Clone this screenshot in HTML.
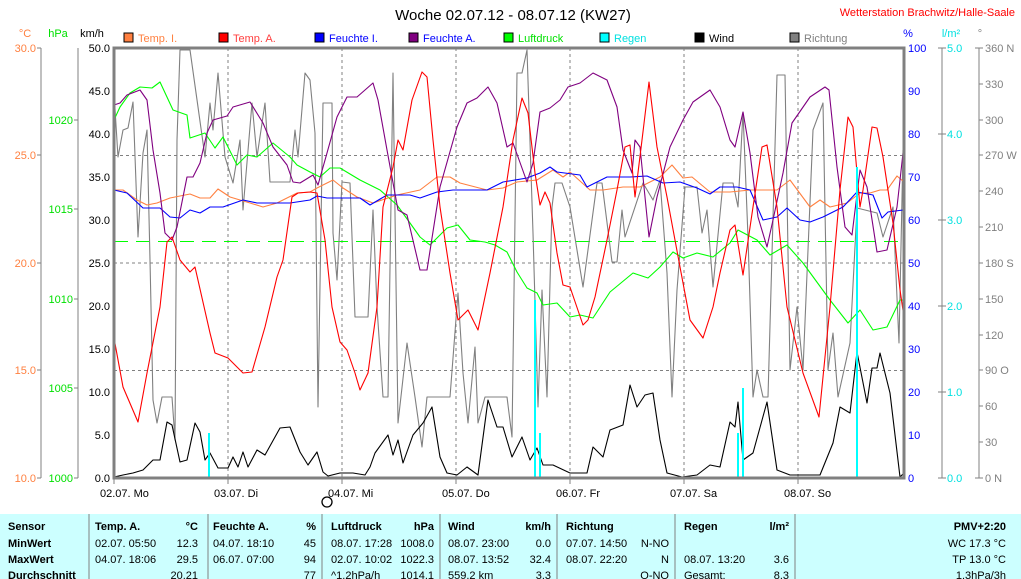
<!DOCTYPE html>
<html><head><meta charset="utf-8"><style>
html,body{margin:0;padding:0;background:#fff;width:1021px;height:579px;overflow:hidden}
svg{display:block;font-family:"Liberation Sans",sans-serif}
</style></head><body>
<svg width="1021" height="579" viewBox="0 0 1021 579" xmlns="http://www.w3.org/2000/svg">
<rect width="1021" height="579" fill="#fff"/>
<text x="513" y="20" font-size="15" text-anchor="middle" fill="#000">Woche 02.07.12 - 08.07.12 (KW27)</text>
<text x="1015" y="16" font-size="11" text-anchor="end" fill="#ff0000">Wetterstation Brachwitz/Halle-Saale</text>
<g font-size="11">
<text x="25" y="37" text-anchor="middle" fill="#ff8040">°C</text>
<text x="58" y="37" text-anchor="middle" fill="#00e000">hPa</text>
<text x="92" y="37" text-anchor="middle" fill="#000">km/h</text>
<text x="908" y="37" text-anchor="middle" fill="#0000ff">%</text>
<text x="951" y="37" text-anchor="middle" fill="#00e0e0">l/m²</text>
<text x="980" y="37" text-anchor="middle" fill="#808080">°</text>
</g>
<g font-size="11">
<rect x="124" y="33" width="9" height="9" fill="#ff8040" stroke="#000"/><text x="138" y="42" fill="#ff8040">Temp. I.</text>
<rect x="219" y="33" width="9" height="9" fill="#ff0000" stroke="#000"/><text x="233" y="42" fill="#ff4040">Temp. A.</text>
<rect x="315" y="33" width="9" height="9" fill="#0000ff" stroke="#000"/><text x="329" y="42" fill="#0000ff">Feuchte I.</text>
<rect x="409" y="33" width="9" height="9" fill="#800080" stroke="#000"/><text x="423" y="42" fill="#0000ff">Feuchte A.</text>
<rect x="504" y="33" width="9" height="9" fill="#00ff00" stroke="#000"/><text x="518" y="42" fill="#00e000">Luftdruck</text>
<rect x="600" y="33" width="9" height="9" fill="#00ffff" stroke="#000"/><text x="614" y="42" fill="#00e0e0">Regen</text>
<rect x="695" y="33" width="9" height="9" fill="#000" stroke="#000"/><text x="709" y="42" fill="#000">Wind</text>
<rect x="790" y="33" width="9" height="9" fill="#808080" stroke="#000"/><text x="804" y="42" fill="#808080">Richtung</text>
</g>
<g stroke="#808080" stroke-width="1">
<line x1="41" y1="48" x2="41" y2="478"/><line x1="78" y1="48" x2="78" y2="478"/>
<line x1="942" y1="48" x2="942" y2="478"/><line x1="979" y1="48" x2="979" y2="478"/>
</g>
<g font-size="11" fill="#ff8040" text-anchor="end">
<text x="36" y="52">30.0</text><text x="36" y="159">25.0</text><text x="36" y="267">20.0</text><text x="36" y="374">15.0</text><text x="36" y="482">10.0</text>
</g>
<g stroke="#808080"><line x1="37" y1="48" x2="41" y2="48"/><line x1="37" y1="155" x2="41" y2="155"/><line x1="37" y1="263" x2="41" y2="263"/><line x1="37" y1="370" x2="41" y2="370"/><line x1="37" y1="478" x2="41" y2="478"/>
<line x1="74" y1="120" x2="78" y2="120"/><line x1="74" y1="209" x2="78" y2="209"/><line x1="74" y1="299" x2="78" y2="299"/><line x1="74" y1="388" x2="78" y2="388"/><line x1="74" y1="478" x2="78" y2="478"/></g>
<g font-size="11" fill="#00e000" text-anchor="end">
<text x="73" y="124">1020</text><text x="73" y="213">1015</text><text x="73" y="303">1010</text><text x="73" y="392">1005</text><text x="73" y="482">1000</text>
</g>
<g font-size="11" fill="#000" text-anchor="end">
<text x="110" y="52">50.0</text><text x="110" y="95">45.0</text><text x="110" y="138">40.0</text><text x="110" y="181">35.0</text><text x="110" y="224">30.0</text><text x="110" y="267">25.0</text><text x="110" y="310">20.0</text><text x="110" y="353">15.0</text><text x="110" y="396">10.0</text><text x="110" y="439">5.0</text><text x="110" y="482">0.0</text>
</g>
<g font-size="11" fill="#0000ff">
<text x="908" y="52">100</text><text x="908" y="95">90</text><text x="908" y="138">80</text><text x="908" y="181">70</text><text x="908" y="224">60</text><text x="908" y="267">50</text><text x="908" y="310">40</text><text x="908" y="353">30</text><text x="908" y="396">20</text><text x="908" y="439">10</text><text x="908" y="482">0</text>
</g>
<g font-size="11" fill="#00e0e0">
<text x="947" y="52">5.0</text><text x="947" y="138">4.0</text><text x="947" y="224">3.0</text><text x="947" y="310">2.0</text><text x="947" y="396">1.0</text><text x="947" y="482">0.0</text>
</g>
<g stroke="#808080"><line x1="938" y1="48" x2="946" y2="48"/><line x1="938" y1="134" x2="946" y2="134"/><line x1="938" y1="220" x2="946" y2="220"/><line x1="938" y1="306" x2="946" y2="306"/><line x1="938" y1="392" x2="946" y2="392"/><line x1="938" y1="478" x2="946" y2="478"/></g>
<g font-size="11" fill="#808080">
<text x="985" y="52">360 N</text><text x="985" y="88">330</text><text x="985" y="124">300</text><text x="985" y="159">270 W</text><text x="985" y="195">240</text><text x="985" y="231">210</text><text x="985" y="267">180 S</text><text x="985" y="303">150</text><text x="985" y="339">120</text><text x="985" y="374">90 O</text><text x="985" y="410">60</text><text x="985" y="446">30</text><text x="985" y="482">0 N</text>
</g>
<g stroke="#808080"><line x1="975" y1="48" x2="983" y2="48"/><line x1="979" y1="84" x2="983" y2="84"/><line x1="979" y1="120" x2="983" y2="120"/><line x1="979" y1="155" x2="983" y2="155"/><line x1="979" y1="191" x2="983" y2="191"/><line x1="979" y1="227" x2="983" y2="227"/><line x1="979" y1="263" x2="983" y2="263"/><line x1="979" y1="299" x2="983" y2="299"/><line x1="979" y1="335" x2="983" y2="335"/><line x1="979" y1="370" x2="983" y2="370"/><line x1="979" y1="406" x2="983" y2="406"/><line x1="979" y1="442" x2="983" y2="442"/><line x1="975" y1="478" x2="983" y2="478"/></g>
<g stroke="#808080" stroke-dasharray="3,3" stroke-width="1">
<line x1="114" y1="155.5" x2="904" y2="155.5"/><line x1="114" y1="263" x2="904" y2="263"/><line x1="114" y1="370.5" x2="904" y2="370.5"/>
<line x1="228" y1="48" x2="228" y2="478"/><line x1="342" y1="48" x2="342" y2="478"/><line x1="456" y1="48" x2="456" y2="478"/><line x1="570" y1="48" x2="570" y2="478"/><line x1="684" y1="48" x2="684" y2="478"/><line x1="798" y1="48" x2="798" y2="478"/>
</g>
<line x1="114" y1="241.5" x2="904" y2="241.5" stroke="#00ff00" stroke-dasharray="14,8"/>
<g fill="none" stroke-width="1.1" stroke-linejoin="round">
<polyline stroke="#808080" points="114,93 118,157 123,130 128,128 133,102 138,237 143,153 147,130 150,260 153,400 157,423 162,397 172,397 175,440 177,140 180,50 190,50 198,107 205,157 210,103 213,130 218,73 225,157 233,183 240,140 243,210 252,103 257,157 265,103 270,182 290,182 295,130 298,157 305,73 310,80 315,133 318,407 323,103 332,103 333,233 337,280 342,182 350,183 355,317 368,317 373,210 377,307 383,397 388,397 393,73 398,423 407,343 415,397 422,447 427,397 450,397 458,293 463,373 468,423 475,347 478,423 485,397 507,397 512,437 517,73 522,73 527,50 533,233 538,407 542,290 547,397 552,207 555,183 562,183 570,207 583,287 597,183 602,183 612,262 617,262 622,210 625,237 643,183 653,200 660,180 667,273 672,397 677,290 685,187 697,187 702,233 707,210 713,287 723,183 733,183 738,207 743,112 748,237 753,397 757,370 763,397 768,397 777,75 785,75 790,370 797,307 803,370 813,130 823,103 828,370 833,333 838,397 850,343 857,208 877,213 883,237 893,207 899,343 903,150"/>
<polyline stroke="#00ff00" points="114,120 120,107 130,93 140,87 152,88 160,82 173,110 187,115 190,138 205,133 215,148 223,137 237,165 247,155 257,157 273,143 290,157 297,165 310,172 320,177 330,168 340,168 360,180 380,190 397,205 410,223 420,237 430,245 447,228 458,225 470,240 485,242 495,245 507,252 517,272 527,288 537,293 543,305 557,303 570,317 580,315 593,318 610,292 633,273 648,278 660,267 673,252 683,258 697,253 713,257 730,243 738,230 757,240 770,255 787,245 803,263 830,300 848,323 860,310 873,330 887,327 900,300 904,300"/>
<polyline stroke="#ff8040" points="114,190 123,190 137,200 147,205 157,203 170,198 190,194 200,198 210,198 218,189 230,197 250,203 263,207 277,203 297,193 310,192 317,188 333,180 343,188 357,197 373,203 397,195 420,190 437,177 450,177 460,183 487,190 503,188 517,182 537,180 553,170 563,177 570,172 590,190 603,190 623,187 640,187 650,182 660,177 672,165 683,178 692,177 710,192 730,192 750,190 777,190 790,180 810,207 820,200 830,207 847,203 860,193 870,193 880,190 887,190 897,176 904,182"/>
<polyline stroke="#0000ff" points="114,190 127,193 143,208 160,208 170,217 180,218 190,210 200,213 210,207 223,207 243,200 257,203 290,203 310,200 317,196 327,198 360,198 370,205 387,195 410,195 420,198 437,192 453,190 487,190 503,182 527,178 540,173 550,167 557,172 580,175 587,187 597,182 607,177 630,177 647,176 663,183 680,182 697,188 710,194 720,187 737,187 750,190 763,220 777,217 787,208 800,220 810,222 823,217 843,207 857,192 873,195 882,218 888,212 903,210"/>
<polyline stroke="#800080" points="114,105 120,103 127,95 140,90 147,100 153,150 160,193 165,233 172,240 177,227 187,177 193,177 200,163 207,133 213,120 227,116 233,107 250,102 263,123 273,147 287,165 293,182 300,183 313,175 318,185 327,153 337,117 347,97 357,97 373,83 378,100 387,150 398,210 407,215 420,270 427,270 440,187 457,127 467,103 477,98 488,87 497,103 507,147 513,143 527,182 533,163 540,112 550,108 560,100 568,87 580,83 593,73 607,80 617,107 623,150 632,173 635,140 640,147 649,237 657,197 670,147 683,120 693,102 710,90 720,107 730,140 735,147 743,112 750,153 758,217 767,247 773,220 783,173 792,123 810,97 825,87 829,90 837,167 845,227 852,235 860,170 867,187 877,252 887,250 897,207 903,153"/>
<polyline stroke="#ff0000" points="114,338 123,387 138,422 147,373 160,307 167,242 172,237 180,260 190,272 195,267 210,333 215,353 228,358 243,373 252,372 265,327 277,277 283,260 292,197 298,193 310,192 317,193 325,240 332,307 340,342 347,350 355,373 360,390 368,373 377,307 383,207 393,167 398,140 403,150 412,100 422,72 427,77 433,140 440,207 450,273 458,320 468,310 478,330 490,273 503,207 513,140 522,98 528,113 535,173 540,205 545,192 550,203 557,253 563,285 570,287 583,325 588,320 595,297 607,240 617,190 625,147 630,145 635,197 642,140 649,82 657,147 667,197 680,267 690,320 703,338 713,307 720,273 730,230 735,225 743,275 753,207 762,147 767,145 777,207 787,307 803,373 819,417 830,307 840,190 848,117 853,127 860,207 863,190 872,127 877,128 883,157 893,223 900,290 904,317"/>
<polyline stroke="#000" points="114,477 123,475 133,473 143,470 153,460 160,460 167,422 172,425 180,462 187,460 195,423 200,432 205,460 210,453 218,468 228,468 233,457 238,467 243,452 248,467 257,450 265,455 280,428 290,427 300,452 308,465 317,452 323,472 328,476 340,473 353,473 365,475 370,467 375,453 388,435 393,455 398,440 403,463 413,435 423,423 432,407 440,457 447,473 457,475 467,467 478,475 488,400 497,427 503,427 512,457 522,437 530,460 537,448 543,465 553,465 570,473 587,473 593,447 603,457 610,430 623,425 630,385 637,407 645,395 653,393 660,440 667,473 682,477 697,475 710,465 720,467 730,422 735,427 738,402 743,460 753,453 767,402 777,470 790,475 820,475 833,443 840,407 850,413 857,352 867,403 872,368 877,368 880,353 890,393 900,477 904,473"/>
</g>
<g stroke="#00ffff" stroke-width="2">
<line x1="209" y1="433" x2="209" y2="478"/><line x1="535" y1="300" x2="535" y2="478"/><line x1="540" y1="433" x2="540" y2="478"/><line x1="738" y1="433" x2="738" y2="478"/><line x1="743" y1="388" x2="743" y2="478"/><line x1="857" y1="167" x2="857" y2="478"/>
</g>
<rect x="114" y="48" width="790" height="430" fill="none" stroke="#808080" stroke-width="3"/>
<g stroke="#808080"><line x1="114" y1="478" x2="114" y2="484"/><line x1="228" y1="478" x2="228" y2="484"/><line x1="342" y1="478" x2="342" y2="484"/><line x1="456" y1="478" x2="456" y2="484"/><line x1="570" y1="478" x2="570" y2="484"/><line x1="684" y1="478" x2="684" y2="484"/><line x1="798" y1="478" x2="798" y2="484"/></g>
<g font-size="11" fill="#000">
<text x="100" y="497">02.07. Mo</text><text x="214" y="497">03.07. Di</text><text x="328" y="497">04.07. Mi</text><text x="442" y="497">05.07. Do</text><text x="556" y="497">06.07. Fr</text><text x="670" y="497">07.07. Sa</text><text x="784" y="497">08.07. So</text>
</g>
<circle cx="327" cy="502" r="5" fill="#fff" stroke="#000" stroke-width="1.3"/>
<rect x="0" y="514" width="1021" height="65" fill="#ccffff"/>
<g stroke="#808080"><line x1="89" y1="514" x2="89" y2="579"/><line x1="208" y1="514" x2="208" y2="579"/><line x1="322" y1="514" x2="322" y2="579"/><line x1="440" y1="514" x2="440" y2="579"/><line x1="557" y1="514" x2="557" y2="579"/><line x1="675" y1="514" x2="675" y2="579"/><line x1="795" y1="514" x2="795" y2="579"/></g>
<g font-size="11" fill="#000">
<g font-weight="bold">
<text x="8" y="530">Sensor</text><text x="8" y="547">MinWert</text><text x="8" y="563">MaxWert</text><text x="8" y="579">Durchschnitt</text>
<text x="95" y="530">Temp. A.</text><text x="198" y="530" text-anchor="end">°C</text>
<text x="213" y="530">Feuchte A.</text><text x="316" y="530" text-anchor="end">%</text>
<text x="331" y="530">Luftdruck</text><text x="434" y="530" text-anchor="end">hPa</text>
<text x="448" y="530">Wind</text><text x="551" y="530" text-anchor="end">km/h</text>
<text x="566" y="530">Richtung</text>
<text x="684" y="530">Regen</text><text x="789" y="530" text-anchor="end">l/m²</text>
<text x="1006" y="530" text-anchor="end">PMV+2:20</text>
</g>
<text x="95" y="547">02.07. 05:50</text><text x="198" y="547" text-anchor="end">12.3</text>
<text x="213" y="547">04.07. 18:10</text><text x="316" y="547" text-anchor="end">45</text>
<text x="331" y="547">08.07. 17:28</text><text x="434" y="547" text-anchor="end">1008.0</text>
<text x="448" y="547">08.07. 23:00</text><text x="551" y="547" text-anchor="end">0.0</text>
<text x="566" y="547">07.07. 14:50</text><text x="669" y="547" text-anchor="end">N-NO</text>
<text x="1006" y="547" text-anchor="end">WC 17.3 °C</text>
<text x="95" y="563">04.07. 18:06</text><text x="198" y="563" text-anchor="end">29.5</text>
<text x="213" y="563">06.07. 07:00</text><text x="316" y="563" text-anchor="end">94</text>
<text x="331" y="563">02.07. 10:02</text><text x="434" y="563" text-anchor="end">1022.3</text>
<text x="448" y="563">08.07. 13:52</text><text x="551" y="563" text-anchor="end">32.4</text>
<text x="566" y="563">08.07. 22:20</text><text x="669" y="563" text-anchor="end">N</text>
<text x="684" y="563">08.07. 13:20</text><text x="789" y="563" text-anchor="end">3.6</text>
<text x="1006" y="563" text-anchor="end">TP 13.0 °C</text>
<text x="198" y="579" text-anchor="end">20.21</text>
<text x="316" y="579" text-anchor="end">77</text>
<text x="331" y="579">^1.2hPa/h</text><text x="434" y="579" text-anchor="end">1014.1</text>
<text x="448" y="579">559.2 km</text><text x="551" y="579" text-anchor="end">3.3</text>
<text x="669" y="579" text-anchor="end">O-NO</text>
<text x="684" y="579">Gesamt:</text><text x="789" y="579" text-anchor="end">8.3</text>
<text x="1006" y="579" text-anchor="end">1.3hPa/3h</text>
</g>
</svg>
</body></html>
